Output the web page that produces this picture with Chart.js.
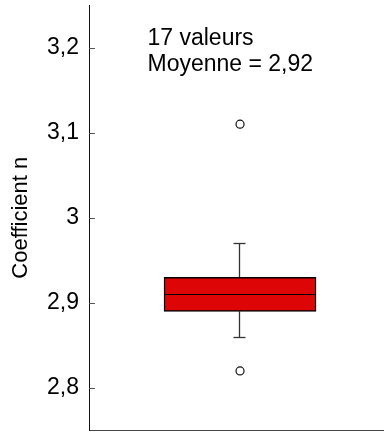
<!DOCTYPE html>
<html><head><meta charset="utf-8">
<script src="https://cdn.jsdelivr.net/npm/chart.js@4/dist/chart.umd.min.js"></script>
<style>html,body{margin:0;padding:0;background:#fff;}canvas{display:block;}</style>
</head><body>
<canvas id="c" width="384" height="432"></canvas>
<script>
// ---- data ----
const yTitle = 'Coefficient n';
const boxQ1 = [2.89];
const boxMedian = [2.91];
const boxQ3 = [2.93];
const whiskerLow = [2.86];
const whiskerHigh = [2.97];
const outlierValues = [3.11, 2.82];
const nValues = 17;
const meanValue = 2.92;
const tickValues = [2.8, 2.9, 3.0, 3.1, 3.2];
const tickLabels = ['2,8', '2,9', '3', '3,1', '3,2'];

// ---- layout / style ----
const FONT = "'Liberation Sans', Arial, sans-serif";
const boxCenter = 0.512;
const annotationLines = [nValues + ' valeurs', 'Moyenne = ' + meanValue.toFixed(2).replace('.', ',')];

function strokeLine(ctx, x1, y1, x2, y2) {
  ctx.beginPath(); ctx.moveTo(x1, y1); ctx.lineTo(x2, y2); ctx.stroke();
}
function noPad(s) { s.paddingTop = 0; s.paddingBottom = 0; s.paddingLeft = 0; s.paddingRight = 0; }

const boxExtras = {
  id: 'boxExtras',
  beforeDatasetsDraw(chart) {
    const {ctx, scales: {y}} = chart;
    const meta = chart.getDatasetMeta(0);
    meta.data.forEach((bar, i) => {
      const cx = Math.round(bar.x) - 0.5;
      ctx.save();
      ctx.strokeStyle = '#333'; ctx.lineWidth = 1.3;
      const pq3 = y.getPixelForValue(boxQ3[i]);
      const phi = Math.round(y.getPixelForValue(whiskerHigh[i])) + 0.5;
      const pq1 = y.getPixelForValue(boxQ1[i]);
      const plo = Math.round(y.getPixelForValue(whiskerLow[i])) + 0.5;
      strokeLine(ctx, cx, pq3, cx, phi);
      strokeLine(ctx, cx, pq1, cx, plo);
      strokeLine(ctx, cx - 6, phi, cx + 6, phi);
      strokeLine(ctx, cx - 6, plo, cx + 6, plo);
      ctx.restore();
    });
  },
  afterDatasetsDraw(chart) {
    const {ctx, scales: {y}} = chart;
    const meta = chart.getDatasetMeta(0);
    meta.data.forEach((bar, i) => {
      const half = bar.width / 2;
      const my = Math.round(y.getPixelForValue(boxMedian[i])) + 0.5;
      ctx.save();
      ctx.strokeStyle = '#000'; ctx.lineWidth = 1.2;
      strokeLine(ctx, bar.x - half + 1, my, bar.x + half - 1, my);
      ctx.restore();
    });
  },
  afterDraw(chart) {
    const {ctx, chartArea, scales: {y}} = chart;
    ctx.save();
    // inward tick marks
    ctx.strokeStyle = '#555'; ctx.lineWidth = 1;
    tickValues.forEach(v => {
      const py = Math.round(y.getPixelForValue(v)) + 0.5;
      strokeLine(ctx, chartArea.left, py, chartArea.left + 6, py);
    });
    // annotation
    ctx.fillStyle = '#000';
    ctx.font = '23px ' + FONT;
    ctx.textAlign = 'left'; ctx.textBaseline = 'alphabetic';
    annotationLines.forEach((t, k) => {
      ctx.fillText(t, chartArea.left + 58.5, chartArea.top + 40 + k * 26);
    });
    ctx.restore();
  }
};

new Chart(document.getElementById('c'), {
  type: 'bar',
  data: {
    datasets: [
      {
        data: boxQ1.map((q, i) => ({x: boxCenter, y: [q, boxQ3[i]]})),
        backgroundColor: '#dd0505',
        borderColor: '#000',
        borderWidth: 1.5,
        borderSkipped: false,
        barThickness: 152,
        order: 2
      },
      {
        type: 'scatter',
        data: outlierValues.map(v => ({x: boxCenter, y: v})),
        pointStyle: 'circle',
        pointRadius: 4,
        borderWidth: 1.2,
        borderColor: '#111',
        backgroundColor: '#fff',
        order: 1
      }
    ]
  },
  options: {
    responsive: false,
    animation: false,
    layout: {autoPadding: false, padding: {top: 5, right: 0, bottom: 1.5, left: 0}},
    plugins: {legend: {display: false}, tooltip: {enabled: false}},
    scales: {
      x: {
        type: 'linear', min: 0, max: 1, offset: false,
        ticks: {display: false},
        grid: {display: true, drawOnChartArea: false, drawTicks: false},
        border: {display: true, color: '#444', width: 1},
        afterFit: s => { s.height = 0; noPad(s); }
      },
      y: {
        type: 'linear', min: 2.75, max: 3.25,
        afterBuildTicks: s => { s.ticks = tickValues.map(v => ({value: v})); },
        ticks: {
          callback: (v, i) => tickLabels[i],
          font: {size: 23, family: FONT},
          color: '#000',
          padding: 10
        },
        grid: {drawOnChartArea: false, drawTicks: false},
        border: {display: true, color: '#111', width: 1},
        title: {display: true, text: yTitle, font: {size: 22, family: FONT}, color: '#000', padding: {top: 8, bottom: 0}},
        afterFit: s => { s.width = 89; noPad(s); }
      }
    }
  },
  plugins: [boxExtras]
});
</script>
</body></html>
